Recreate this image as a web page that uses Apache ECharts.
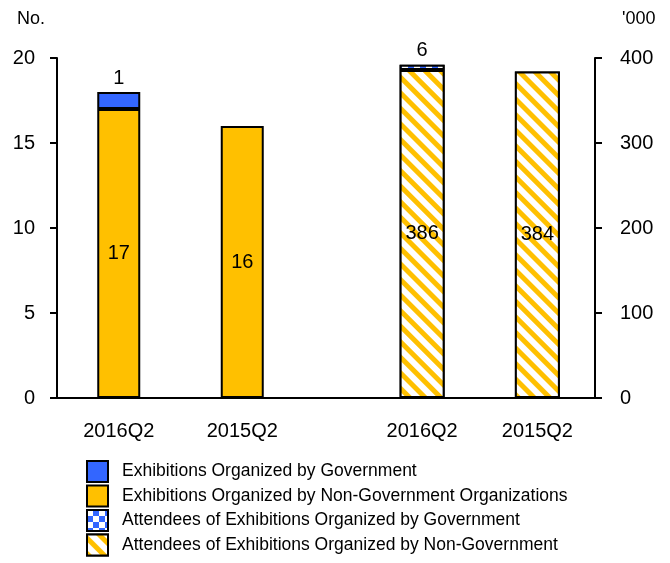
<!DOCTYPE html>
<html>
<head>
<meta charset="utf-8">
<script src="https://cdn.jsdelivr.net/npm/echarts@6/dist/echarts.min.js"></script>
<style>
  html, body { margin: 0; padding: 0; background: #fff; }
  #chart { width: 670px; height: 563px; }
</style>
</head>
<body>
<div id="chart"></div>
<script>
// Quarter labels for both panels
const quarters = ['2016Q2', '2015Q2'];

// Number of exhibitions (left scale, No.)
const exhibitionsGov = [1, null];
const exhibitionsNonGov = [17, 16];

// Attendees (right scale, '000)
const attendeesGov = [6, null];
const attendeesNonGov = [386, 384];

// Axis ticks
const leftTicks = { min: 0, max: 20, interval: 5 };
const rightTicks = { min: 0, max: 400, interval: 100 };

const FONT = '"Liberation Sans Narrow", "Arial Narrow", "Liberation Sans", Arial, sans-serif';
const BLUE = '#3366FF';
const GOLD = '#FFC000';

const chart = echarts.init(document.getElementById('chart'), null, { renderer: 'canvas' });

const labelStyle = { fontFamily: FONT, fontSize: 20, color: '#000' };

// diagonal gold stripes on white
const stripeDecal = {
  symbol: 'rect', symbolSize: 1,
  dashArrayX: [1, 0], dashArrayY: [5, 5.5],
  rotation: Math.PI / 4,
  color: GOLD, backgroundColor: '#fff'
};
// blue / white checkerboard
const checkDecal = {
  symbol: 'rect', symbolSize: 1,
  dashArrayX: [[6, 6], [0, 6, 6, 0]], dashArrayY: [6, 0],
  rotation: 0,
  color: BLUE, backgroundColor: '#fff'
};

chart.setOption({
  animation: false,
  textStyle: { fontFamily: FONT },
  grid: [
    // exhibitions panel; the third (blank) slot carries the baseline across the gap
    { left: 57, top: 58, width: 370.5, bottom: 165 },
    // attendees panel
    { left: 364.5, top: 58, width: 230.5, bottom: 165 }
  ],
  legend: {
    orient: 'vertical',
    left: 86, top: 460, padding: 0,
    height: 110,
    icon: 'rect',
    itemWidth: 21, itemHeight: 21, itemGap: 1.5,
    textStyle: { fontFamily: FONT, fontSize: 17.5, lineHeight: 21, color: '#000', padding: [0, 0, 0, 9] },
    data: [
      'Exhibitions Organized by Government',
      'Exhibitions Organized by Non-Government Organizations',
      'Attendees of Exhibitions Organized by Government',
      'Attendees of Exhibitions Organized by Non-Government'
    ]
  },
  xAxis: [
    {
      type: 'category', gridIndex: 0, data: quarters.concat(['']),
      axisLine: { lineStyle: { color: '#000', width: 2 } },
      axisTick: { show: false },
      axisLabel: { ...labelStyle, margin: 23 }
    },
    {
      type: 'category', gridIndex: 1, data: quarters,
      axisLine: { lineStyle: { color: '#000', width: 2 } },
      axisTick: { show: false },
      axisLabel: { ...labelStyle, margin: 23 }
    }
  ],
  yAxis: [
    {
      type: 'value', gridIndex: 0, position: 'left', ...leftTicks,
      name: 'No.', nameLocation: 'end', nameGap: 30,
      nameTextStyle: { ...labelStyle, fontSize: 18, align: 'right', padding: [0, 12, 0, 0] },
      axisLine: { show: true, lineStyle: { color: '#000', width: 2 } },
      axisTick: { show: true, length: 7, lineStyle: { color: '#000', width: 2 } },
      axisLabel: { ...labelStyle, margin: 22 },
      splitLine: { show: false }
    },
    {
      type: 'value', gridIndex: 1, position: 'right', ...rightTicks,
      name: "'000", nameLocation: 'end', nameGap: 30,
      nameTextStyle: { ...labelStyle, fontSize: 18, align: 'left', padding: [0, 0, 0, 27] },
      axisLine: { show: true, lineStyle: { color: '#000', width: 2 } },
      axisTick: { show: true, length: 7, lineStyle: { color: '#000', width: 2 } },
      axisLabel: { ...labelStyle, margin: 25 },
      splitLine: { show: false }
    }
  ],
  series: [
    {
      name: 'Exhibitions Organized by Non-Government Organizations',
      type: 'bar', xAxisIndex: 0, yAxisIndex: 0, stack: 'ex', barWidth: 43,
      data: exhibitionsNonGov,
      itemStyle: { color: GOLD, borderColor: '#000', borderWidth: 2 },
      label: { show: true, position: 'inside', ...labelStyle }
    },
    {
      name: 'Exhibitions Organized by Government',
      type: 'bar', xAxisIndex: 0, yAxisIndex: 0, stack: 'ex', barWidth: 43,
      data: exhibitionsGov,
      itemStyle: { color: BLUE, borderColor: '#000', borderWidth: 2 },
      label: { show: true, position: 'top', distance: 4, ...labelStyle }
    },
    {
      name: 'Attendees of Exhibitions Organized by Non-Government',
      type: 'bar', xAxisIndex: 1, yAxisIndex: 1, stack: 'att', barWidth: 45,
      data: attendeesNonGov,
      itemStyle: { color: '#fff', borderColor: '#000', borderWidth: 2, decal: stripeDecal },
      label: { show: true, position: 'inside', ...labelStyle }
    },
    {
      name: 'Attendees of Exhibitions Organized by Government',
      type: 'bar', xAxisIndex: 1, yAxisIndex: 1, stack: 'att', barWidth: 45,
      data: attendeesGov,
      itemStyle: { color: '#fff', borderColor: '#000', borderWidth: 2, decal: checkDecal },
      label: { show: true, position: 'top', distance: 4, ...labelStyle }
    }
  ]
});
</script>
</body>
</html>
